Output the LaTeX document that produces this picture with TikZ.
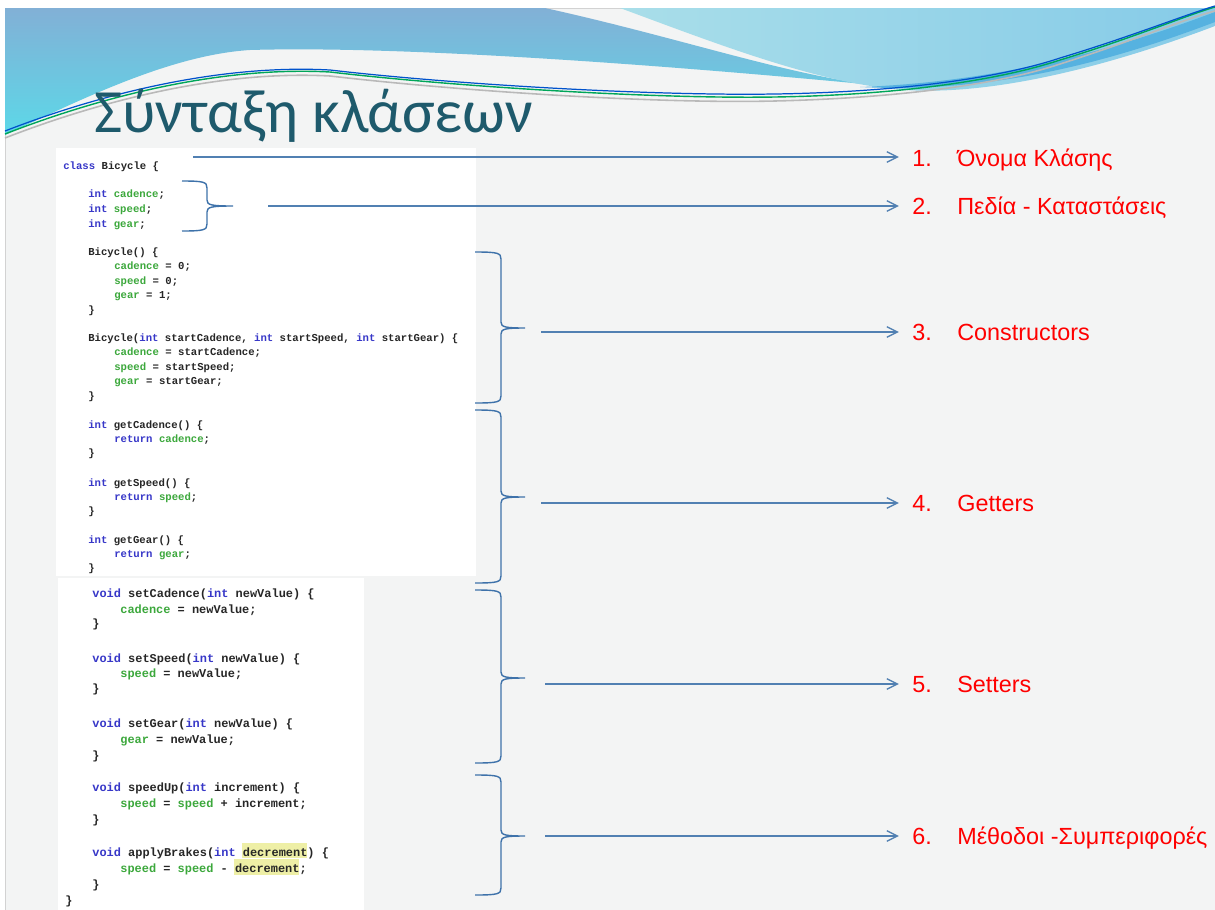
\documentclass[tikz,border=0pt]{standalone}
\usepackage{fontspec}
\setmainfont{Liberation Sans}
\setmonofont{Liberation Mono}
\newfontfamily\titlefont{Carlito}
\usetikzlibrary{arrows.meta}

\definecolor{slidebg}{HTML}{F3F4F4}
\definecolor{titlecol}{HTML}{1E5A6C}
\definecolor{bracecol}{HTML}{3E72AA}
\definecolor{kwcol}{HTML}{3737C8}
\definecolor{varcol}{HTML}{3CA83C}
\definecolor{codeink}{HTML}{262626}
\definecolor{hlcol}{HTML}{EEEFA6}
\definecolor{labelred}{HTML}{FF0000}
\definecolor{waveA1}{HTML}{82B0D6}
\definecolor{waveA2}{HTML}{5CD8E8}
\definecolor{waveB1}{HTML}{A9DEE9}
\definecolor{waveB2}{HTML}{86CBE8}
\definecolor{waveband}{HTML}{56B2E0}

\newcommand\kw[1]{\textcolor{kwcol}{#1}}
\newcommand\vr[1]{\textcolor{varcol}{#1}}
% one line of source code: name, x, baseline y, text
\newcommand\codeA[4]{\node[codeone,anchor=base west] (#1) at (#2,#3) {#4};}
\newcommand\codeB[4]{\node[codetwo,anchor=base west] (#1) at (#2,#3) {#4};}
% curly brace: left end x, stem x, tip x, top y, tip y, bottom y
\newcommand\curly[6]{%
  \draw[bracestyle] (#1,#4) .. controls ({#2-3},#4) and (#2,{#4+1}) .. (#2,{#4+7})
    -- (#2,{#5-6}) .. controls (#2,{#5-1}) and ({#2+4},#5) .. (#3,#5)
    .. controls ({#2+4},#5) and (#2,{#5+1}) .. (#2,{#5+6})
    -- (#2,{#6-7}) .. controls (#2,{#6-1}) and ({#2-3},#6) .. (#1,#6);}

\tikzset{
  codeone/.style={font=\ttfamily\bfseries\fontsize{6.05}{7}\selectfont,text=codeink,inner sep=0pt},
  codetwo/.style={font=\ttfamily\bfseries\fontsize{6.8}{8}\selectfont,text=codeink,inner sep=0pt},
  bracestyle/.style={draw=bracecol,line width=0.8pt},
  arr/.style={draw=bracecol!90,line width=0.75pt,-{Straight Barb[length=6pt,width=6pt,line width=0.75pt]}},
  numlabel/.style={font=\fontsize{13.3}{15}\selectfont,text=labelred,inner sep=0pt,anchor=base west},
  textlabel/.style={font=\fontsize{13.3}{15}\selectfont,text=labelred,inner sep=0pt,anchor=base west},
}

\begin{document}
\begin{tikzpicture}[x=0.02cm,y=-0.02cm]
\useasboundingbox (0,0) rectangle (1215,910);
\fill[white] (0,0) rectangle (1215,910);
% slide background
\fill[slidebg] (5,8) rectangle (1215,910);
\draw[gray!35,line width=0.4pt] (5,910) -- (5,8) -- (1215,8);

% header waves
\shade[top color=waveA1,bottom color=waveA2]
  (5,8) -- (545,8) .. controls (690,40) and (800,80) .. (895,87)
  .. controls (720,70) and (420,45) .. (250,50)
  .. controls (170,55) and (80,100) .. (5,135) -- cycle;
\shade[left color=waveB1,right color=waveB2]
  (620,8) -- (1215,8) -- (1215,26)
  .. controls (1120,62) and (1000,96) .. (905,90)
  .. controls (820,84) and (720,45) .. (620,8) -- cycle;
\fill[waveband]
  (860,87) .. controls (1000,94) and (1120,58) .. (1215,22) -- (1215,12)
  .. controls (1120,48) and (1000,82) .. (860,87) -- cycle;
\draw[gray!55,line width=0.9pt]
  (5,138) .. controls (100,101) and (220,70) .. (330,76)
  .. controls (450,90) and (650,104) .. (775,101)
  .. controls (900,98) and (1000,84) .. (1060,64)
  .. controls (1130,42) and (1190,17) .. (1215,11);
\draw[teal!70!green,line width=0.8pt]
  (5,134) .. controls (100,97) and (220,66) .. (330,72)
  .. controls (450,86) and (650,99) .. (775,97)
  .. controls (900,95) and (1000,80) .. (1060,60)
  .. controls (1130,39) and (1190,14) .. (1215,7);
\draw[blue!60!cyan!80!black,line width=0.7pt]
  (5,131) .. controls (100,94) and (220,64) .. (330,70)
  .. controls (450,84) and (650,96) .. (775,94)
  .. controls (900,92) and (1000,78) .. (1060,58)
  .. controls (1130,37) and (1190,13) .. (1215,6);

% title
\node[font=\titlefont\fontsize{35}{40}\selectfont,text=titlecol,anchor=base west,inner sep=0pt]
  (title) at (94,132) {Σύνταξη κλάσεων};

% code panels
\fill[white] (56,148) rectangle (476,576);
\fill[white] (58,578) rectangle (364,910);
\fill[hlcol] (242,843) rectangle (307,858);
\fill[hlcol] (234,859) rectangle (299,875);

\codeA{pa}{63}{169.5}{\kw{class} Bicycle \{}
\codeA{pb}{88}{197.5}{\kw{int} \vr{cadence};}
\codeA{pc}{88}{212.5}{\kw{int} \vr{speed};}
\codeA{pd}{88}{227.5}{\kw{int} \vr{gear};}
\codeA{pe}{88}{255.5}{Bicycle() \{}
\codeA{pf}{114}{269.5}{\vr{cadence} = 0;}
\codeA{pg}{114}{284.5}{\vr{speed} = 0;}
\codeA{ph}{114}{298.5}{\vr{gear} = 1;}
\codeA{pi}{88}{313.5}{\}}
\codeA{pj}{88}{341.5}{Bicycle(\kw{int} startCadence, \kw{int} startSpeed, \kw{int} startGear) \{}
\codeA{pk}{114}{355.5}{\vr{cadence} = startCadence;}
\codeA{pl}{114}{370.5}{\vr{speed} = startSpeed;}
\codeA{pm}{114}{384.5}{\vr{gear} = startGear;}
\codeA{pn}{88}{399.5}{\}}
\codeA{po}{88}{428.5}{\kw{int} getCadence() \{}
\codeA{pp}{114}{442.5}{\kw{return} \vr{cadence};}
\codeA{pq}{88}{456.5}{\}}
\codeA{pr}{88}{486.5}{\kw{int} getSpeed() \{}
\codeA{ps}{114}{500.5}{\kw{return} \vr{speed};}
\codeA{pt}{88}{514.5}{\}}
\codeA{pu}{88}{543.5}{\kw{int} getGear() \{}
\codeA{pv}{114}{557.5}{\kw{return} \vr{gear};}
\codeA{pw}{88}{571.5}{\}}

\codeB{qa}{92}{597}{\kw{void} setCadence(\kw{int} newValue) \{}
\codeB{qb}{120}{613}{\vr{cadence} = newValue;}
\codeB{qc}{92}{627}{\}}
\codeB{qd}{92}{662}{\kw{void} setSpeed(\kw{int} newValue) \{}
\codeB{qe}{120}{677}{\vr{speed} = newValue;}
\codeB{qf}{92}{692}{\}}
\codeB{qg}{92}{727}{\kw{void} setGear(\kw{int} newValue) \{}
\codeB{qh}{120}{743}{\vr{gear} = newValue;}
\codeB{qi}{92}{759}{\}}
\codeB{qj}{92}{791}{\kw{void} speedUp(\kw{int} increment) \{}
\codeB{qk}{120}{807}{\vr{speed} = \vr{speed} + increment;}
\codeB{ql}{92}{823}{\}}
\codeB{qm}{92}{856}{\kw{void} applyBrakes(\kw{int} decrement) \{}
\codeB{qn}{120}{872}{\vr{speed} = \vr{speed} - decrement;}
\codeB{qo}{92}{888}{\}}
\codeB{qp}{65}{904}{\}}

% braces grouping the members
\curly{182}{207}{233}{181}{206}{231}
\curly{475}{501}{525}{252}{328}{403}
\curly{475}{501}{525}{410}{497}{583}
\curly{475}{501}{525}{590}{678}{763}
\curly{475}{501}{525}{775}{836}{895}

% labels
\node[numlabel] (n1) at (912,166.5) {1.};
\node[textlabel] (t1) at (957,166.5) {Όνομα Κλάσης};
\node[numlabel] (n2) at (912,214.5) {2.};
\node[textlabel] (t2) at (957,214.5) {Πεδία - Καταστάσεις};
\node[numlabel] (n3) at (912,340.5) {3.};
\node[textlabel] (t3) at (957,340.5) {Constructors};
\node[numlabel] (n4) at (912,511.5) {4.};
\node[textlabel] (t4) at (957,511.5) {Getters};
\node[numlabel] (n5) at (912,692.5) {5.};
\node[textlabel] (t5) at (957,692.5) {Setters};
\node[numlabel] (n6) at (912,844.5) {6.};
\node[textlabel] (t6) at (957,844.5) {Μέθοδοι -Συμπεριφορές};

% arrows
\coordinate (s1) at (193,157);
\coordinate (s2) at (268,206);
\coordinate (s3) at (541,332);
\coordinate (s4) at (541,503);
\coordinate (s5) at (545,684);
\coordinate (s6) at (545,836);
\foreach \i in {1,...,6}
  \draw[arr,shorten >=7.5pt] (s\i) -- (s\i -| n\i.west);
\end{tikzpicture}
\end{document}
